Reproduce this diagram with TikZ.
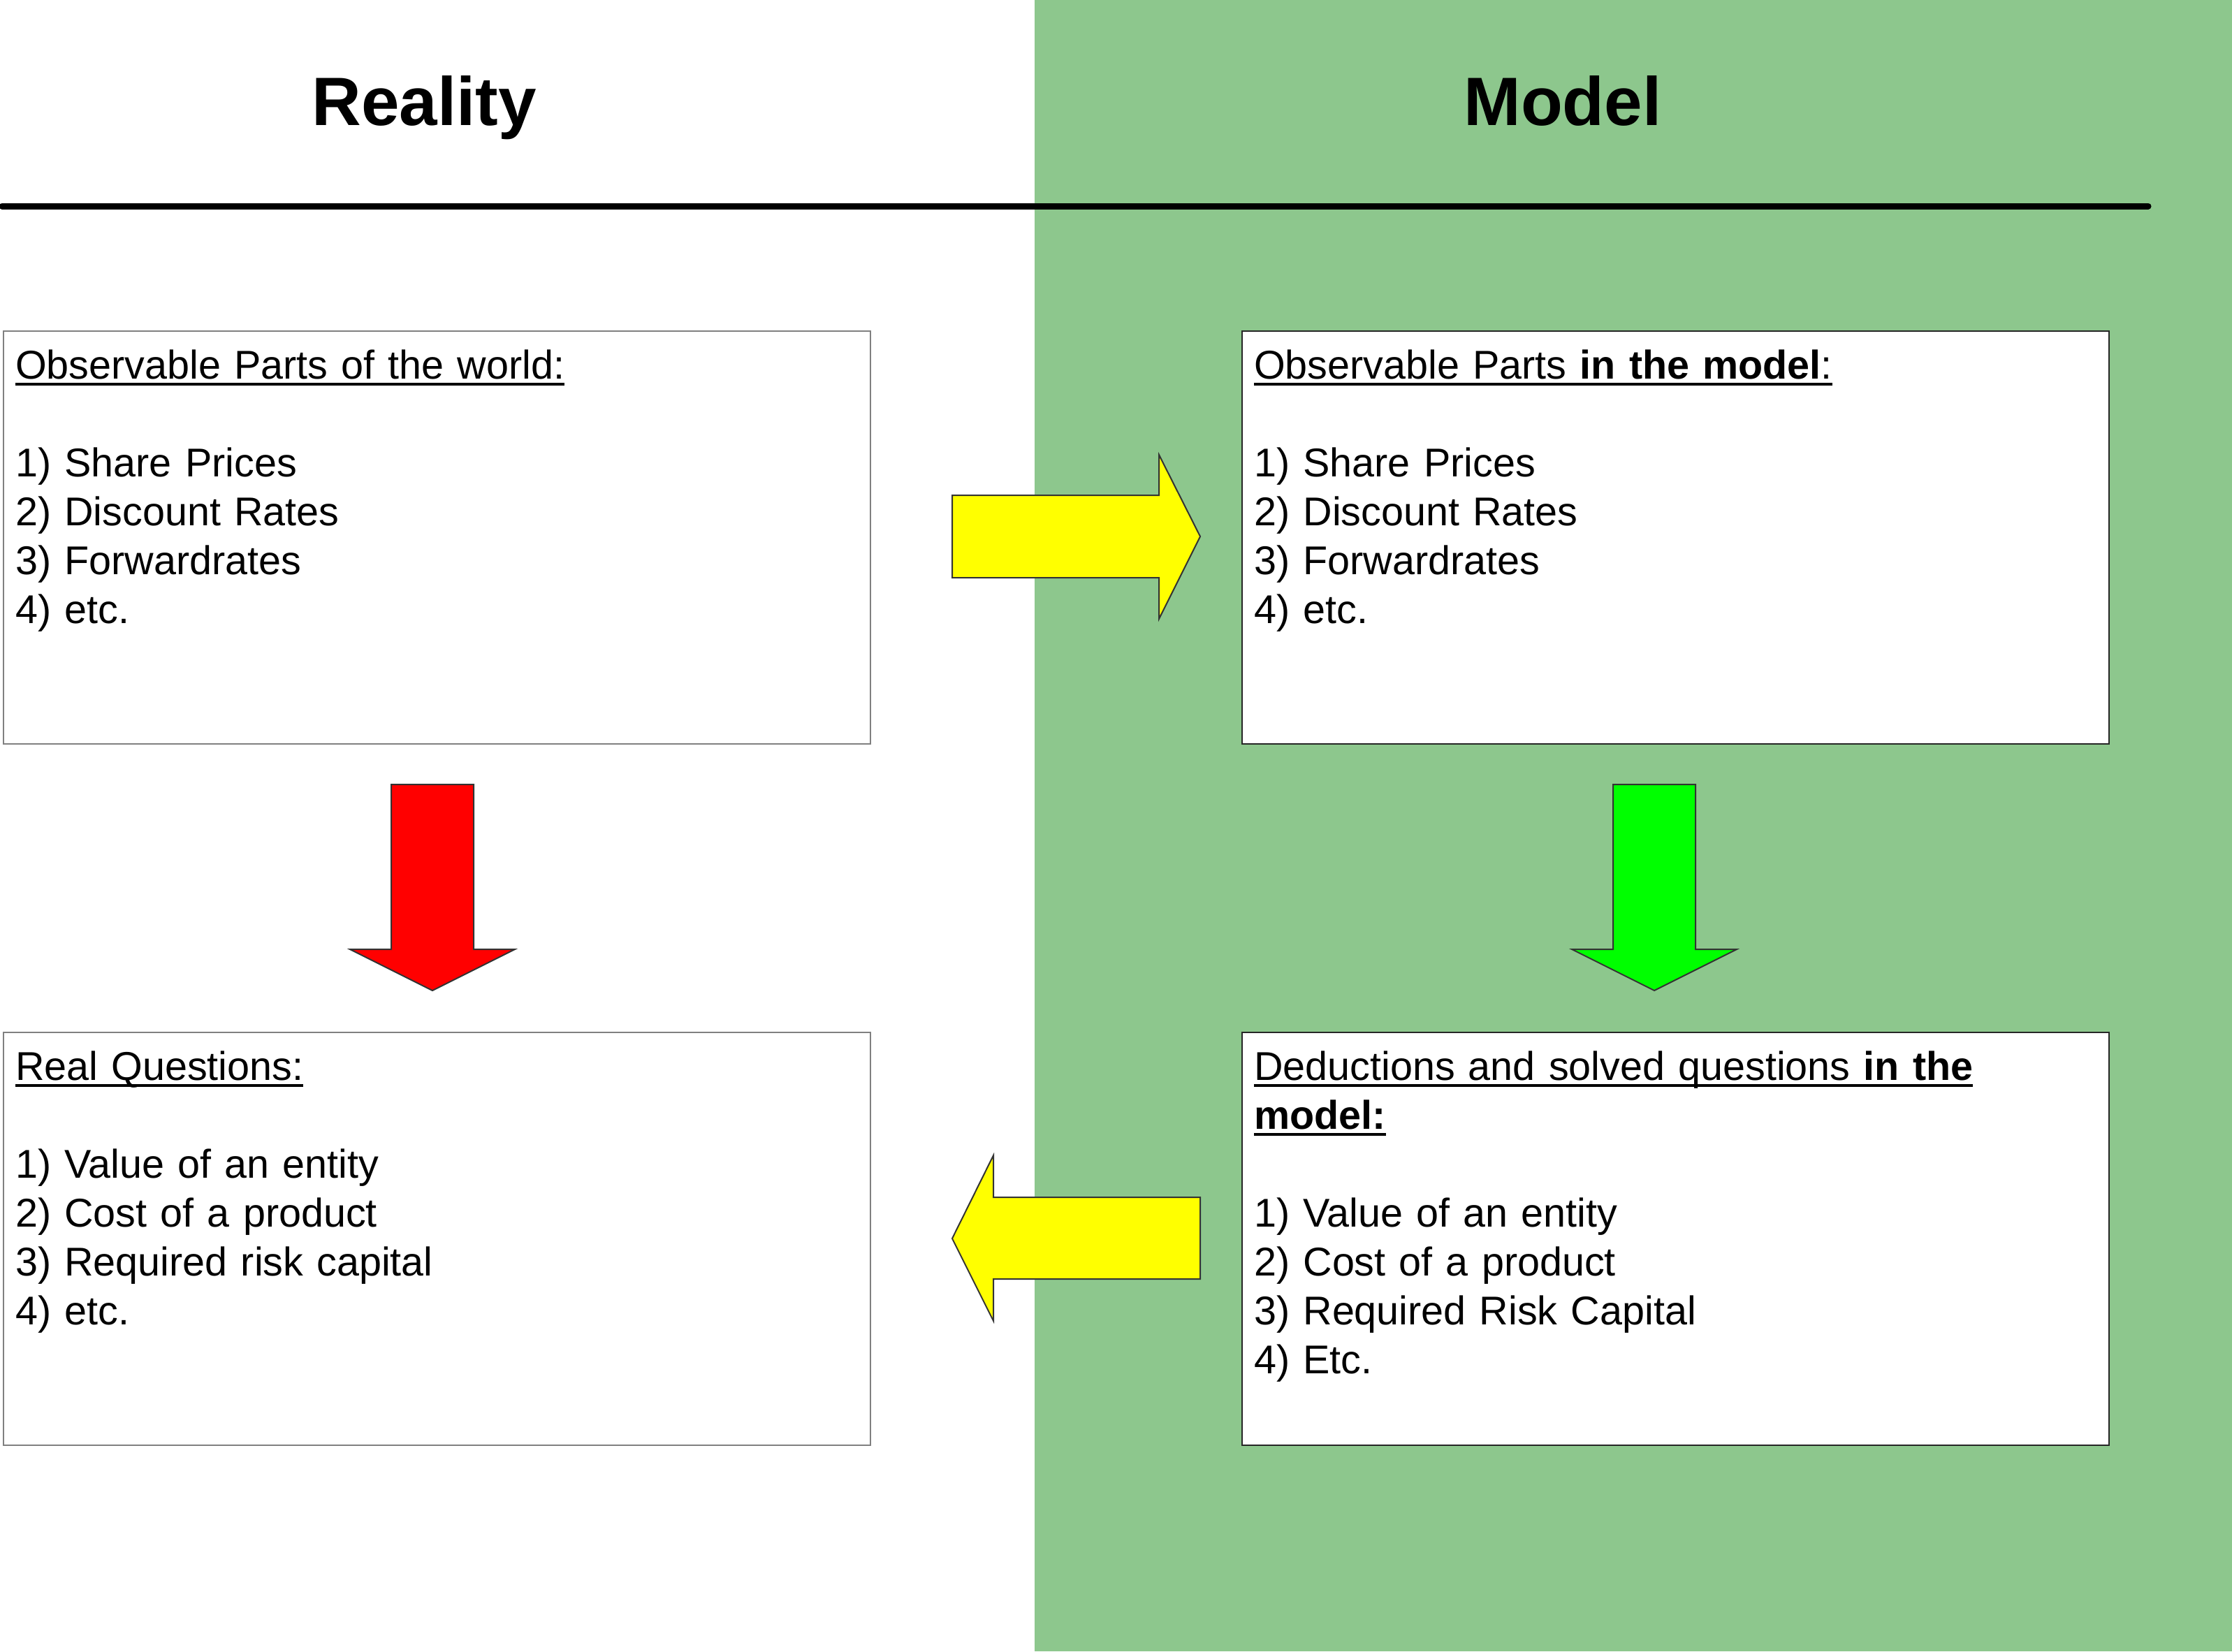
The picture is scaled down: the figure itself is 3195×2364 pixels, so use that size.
\documentclass[tikz,border=0pt]{standalone}
\usepackage{fontspec}
\setmainfont{Liberation Sans}
\newsavebox{\myulbox}
\newcommand{\myul}[1]{\leavevmode\sbox\myulbox{#1}\rlap{\rule[-10pt]{\wd\myulbox}{4pt}}\usebox\myulbox}
\definecolor{panelgreen}{RGB}{141,199,141}
\definecolor{arrowyellow}{RGB}{255,255,0}
\definecolor{arrowred}{RGB}{255,0,0}
\definecolor{arrowgreen}{RGB}{0,255,0}
\begin{document}
\begin{tikzpicture}[x=1pt,y=-1pt,
  heading/.style={font=\fontsize{98}{110}\selectfont\bfseries, inner sep=0pt, anchor=base},
  boxleft/.style={draw=black!50, line width=2pt, fill=white, anchor=north west,
    minimum width=1241pt, minimum height=591pt, inner sep=0pt},
  boxright/.style={boxleft, draw=black!85},
  txt/.style={font=\fontsize{57.5}{70}\selectfont, inner sep=0pt, anchor=base west,
    text width=1200pt, align=left},
  bigarrow/.style={draw=black!80, line width=2pt, line join=miter}]
\useasboundingbox (0,0) rectangle (3195,2364);
\fill[white] (0,0) rectangle (3195,2364);
\fill[panelgreen] (1481,0) rectangle (3195,2364);
\draw[line width=9pt, line cap=round] (3,295) -- (3075,295);

\node[heading] (reality) at (607,179) {Reality};
\node[heading] (model) at (2237,179) {Model};

\node[boxleft] (obsW) at (4,473) {};
\node[boxright] (obsM) at (1777,473) {};
\node[boxleft] (realQ) at (4,1477) {};
\node[boxright] (dedM) at (1777,1477) {};

\node[txt] (obsWt) at ([shift={(18,69)}]obsW.north west)
  {\myul{Observable Parts of the world:}\\[70pt]
   1) Share Prices\\ 2) Discount Rates\\ 3) Forwardrates\\ 4) etc.};
\node[txt] (obsMt) at ([shift={(18,69)}]obsM.north west)
  {\myul{Observable Parts \textbf{in the model}:}\\[70pt]
   1) Share Prices\\ 2) Discount Rates\\ 3) Forwardrates\\ 4) etc.};
\node[txt] (realQt) at ([shift={(18,69)}]realQ.north west)
  {\myul{Real Questions:}\\[70pt]
   1) Value of an entity\\ 2) Cost of a product\\ 3) Required risk capital\\ 4) etc.};
\node[txt] (dedMt) at ([shift={(18,69)}]dedM.north west)
  {\myul{Deductions and solved questions \textbf{in the}}\\
   \myul{\textbf{model:}}\\[70pt]
   1) Value of an entity\\ 2) Cost of a product\\ 3) Required Risk Capital\\ 4) Etc.};

% yellow arrow: reality -> model
\draw[bigarrow, fill=arrowyellow] (1363,709) -- (1659,709) -- (1659,651) -- (1718,768)
  -- (1659,886) -- (1659,827) -- (1363,827) -- cycle;
% yellow arrow: model -> reality
\draw[bigarrow, fill=arrowyellow] (1718,1714) -- (1422,1714) -- (1422,1654) -- (1363,1773)
  -- (1422,1891) -- (1422,1831) -- (1718,1831) -- cycle;
% red arrow down
\draw[bigarrow, fill=arrowred] (560,1123) -- (678,1123) -- (678,1359) -- (737,1359)
  -- (619,1418) -- (501,1359) -- (560,1359) -- cycle;
% green arrow down
\draw[bigarrow, fill=arrowgreen] (2309,1123) -- (2427,1123) -- (2427,1359) -- (2486,1359)
  -- (2368,1418) -- (2250,1359) -- (2309,1359) -- cycle;
\end{tikzpicture}
\end{document}
